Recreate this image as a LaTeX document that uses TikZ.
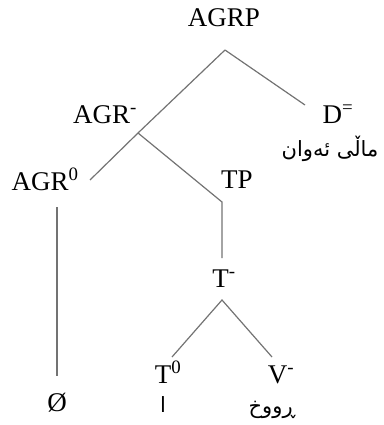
\documentclass[tikz,border=0pt]{standalone}
\usepackage{fontspec}
\setmainfont{Liberation Serif}
\newfontfamily\arabicfont[Script=Arabic]{DejaVu Sans}
\TeXXeTstate=1
\tikzset{
  lab/.style={font=\fontsize{27}{30}\selectfont, inner sep=0pt, anchor=base},
  kur/.style={font=\arabicfont\fontsize{21}{24}\selectfont, inner sep=0pt, anchor=center},
  branch/.style={draw=black!55, line width=1.2pt}
}
\begin{document}
\begin{tikzpicture}[x=1pt,y=-1pt]
\useasboundingbox (0,0) rectangle (383,425);
% labels
\node[lab] (agrp) at (224,27) {AGRP};
\node[lab] (agrbar) at (105,123) {AGR\textsuperscript{-}};
\node[lab] (dp) at (338,123) {D\textsuperscript{=}};
\node[kur] (dtext) at (330,149) {\beginR ماڵی ئەوان\endR};
\node[lab] (agr0) at (45,190) {AGR\textsuperscript{0}};
\node[lab] (tp) at (237,188) {TP};
\node[lab] (tbar) at (224,287) {T\textsuperscript{-}};
\node[lab] (t0) at (168,383) {T\textsuperscript{0}};
\node[lab] (vbar) at (281,383) {V\textsuperscript{-}};
\node[lab, anchor=center] (empty) at (57,403) {Ø};
\node[kur] (ttext) at (163,405) {\beginR ا\endR};
\node[kur] (vtext) at (272,410) {\beginR ڕووخ\endR};
% connector points
\coordinate (agrp-b) at (225,50);
\coordinate (agrbar-j) at (138,133);
\coordinate (agr0-t) at (90,180);
\coordinate (dp-t) at (305,105);
\coordinate (tp-t) at (222,202);
\coordinate (tbar-t) at (222,258);
\coordinate (tbar-b) at (222,300);
\coordinate (t0-t) at (172,357);
\coordinate (vbar-t) at (272,357);
\coordinate (agr0-b) at (57,207);
\coordinate (empty-t) at (57,376);
% branches
\draw[branch] (agrp-b) -- (agrbar-j) -- (agr0-t);
\draw[branch] (agrp-b) -- (dp-t);
\draw[branch] (agrbar-j) -- (tp-t) -- (tbar-t);
\draw[branch] (t0-t) -- (tbar-b) -- (vbar-t);
\draw[branch] (agr0-b) -- (empty-t);
\end{tikzpicture}
\end{document}
